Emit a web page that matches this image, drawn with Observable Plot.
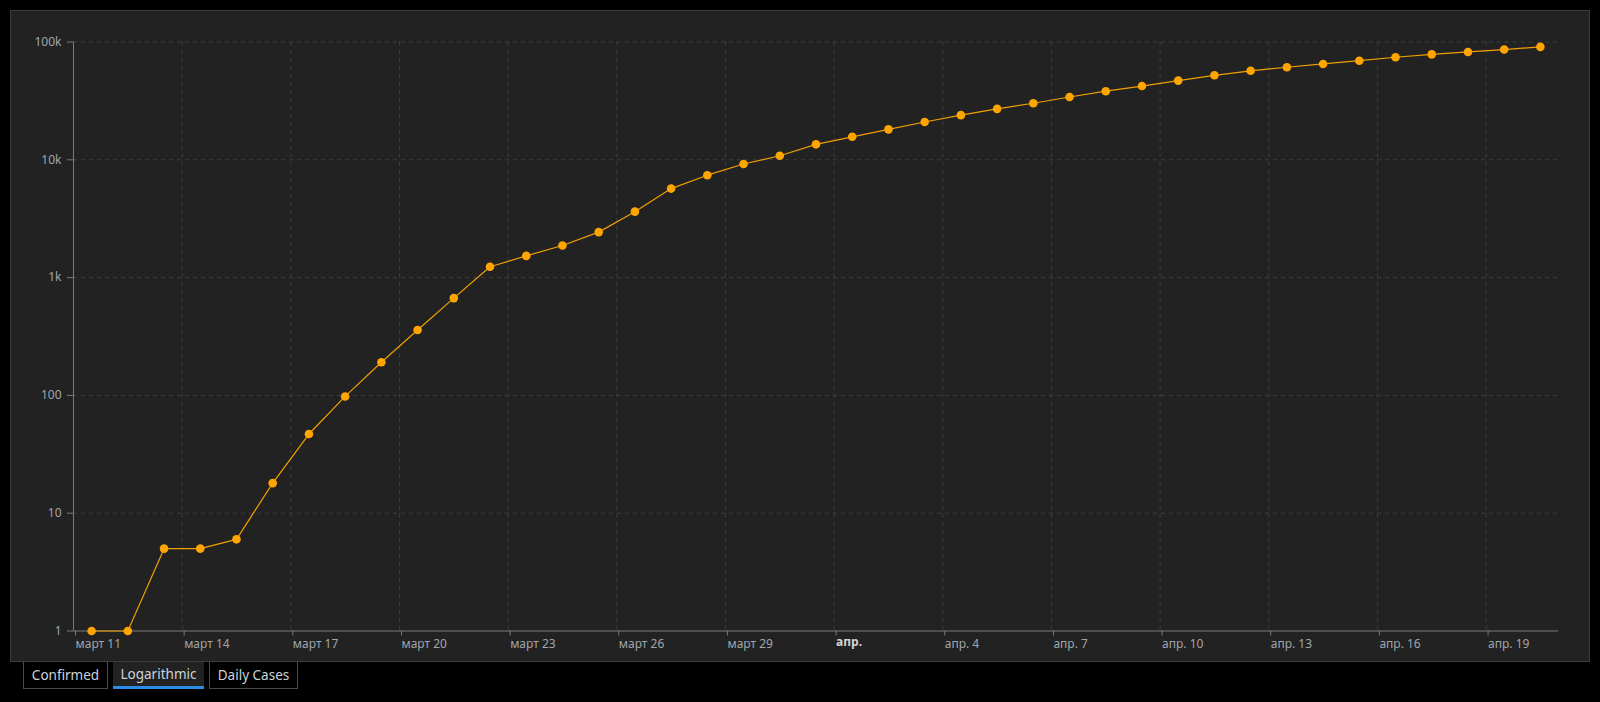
<!DOCTYPE html>
<html><head><meta charset="utf-8">
<script src="https://cdn.jsdelivr.net/npm/d3@7"></script>
<script src="https://cdn.jsdelivr.net/npm/@observablehq/plot@0.6"></script>
<style>
html,body{margin:0;padding:0;background:#000;width:1600px;height:702px;overflow:hidden;font-family:"Noto Sans",sans-serif;}
#panel{position:absolute;left:10px;top:10px;width:1578px;height:650px;background:#222;border:1px solid #3c3c3c;}
#chart{position:absolute;left:10px;top:10px;}
.tab{position:absolute;top:662px;height:27px;box-sizing:border-box;border:1px solid #4a4a4a;border-top:none;color:#cbd3da;font-size:13.5px;display:flex;align-items:center;justify-content:center;background:#000;}
.tab.active{background:#222;border:none;border-bottom:3px solid #2b8ce6;}
</style></head><body>
<div id="panel"></div><div id="chart"></div><div id="tabs"></div>
<script>
const dates = ["2020-03-11","2020-03-12","2020-03-13","2020-03-14","2020-03-15","2020-03-16","2020-03-17","2020-03-18","2020-03-19","2020-03-20","2020-03-21","2020-03-22","2020-03-23","2020-03-24","2020-03-25","2020-03-26","2020-03-27","2020-03-28","2020-03-29","2020-03-30","2020-03-31","2020-04-01","2020-04-02","2020-04-03","2020-04-04","2020-04-05","2020-04-06","2020-04-07","2020-04-08","2020-04-09","2020-04-10","2020-04-11","2020-04-12","2020-04-13","2020-04-14","2020-04-15","2020-04-16","2020-04-17","2020-04-18","2020-04-19","2020-04-20"];
const confirmed = [1,1,5,5,6,18,47,98,191,359,670,1236,1529,1872,2433,3629,5698,7402,9217,10827,13531,15679,18135,20921,23934,27069,30217,34109,38226,42282,47029,52167,56956,61049,65111,69392,74193,78546,82329,86306,90980];
const xDomain = ["2020-03-11","2020-04-21"];
const tickDates = ["2020-03-11","2020-03-14","2020-03-17","2020-03-20","2020-03-23","2020-03-26","2020-03-29","2020-04-01","2020-04-04","2020-04-07","2020-04-10","2020-04-13","2020-04-16","2020-04-19"];
const tickLabels = ["март 11","март 14","март 17","март 20","март 23","март 26","март 29","апр.","апр. 4","апр. 7","апр. 10","апр. 13","апр. 16","апр. 19"];
const tickIsMonth = [false,false,false,false,false,false,false,true,false,false,false,false,false,false];
const yTicks = [1,10,100,1000,10000,100000];
const yTickLabels = ["1","10","100","1k","10k","100k"];
const tabs = ["Confirmed","Logarithmic","Daily Cases"];
const activeTab = "Logarithmic";

const utc = s => new Date(s + "T00:00:00Z");
const noon = s => new Date(s + "T12:00:00Z");
const rows = dates.map((d, i) => ({date: noon(d), value: confirmed[i]}));
const ticks = tickDates.map((d, i) => ({date: utc(d), label: tickLabels[i], month: tickIsMonth[i]}));
const labelByTime = new Map(ticks.map(t => [+t.date, t.month ? "" : t.label]));

const chart = Plot.plot({
  width: 1580, height: 652,
  marginLeft: 63, marginRight: 32, marginTop: 31.5, marginBottom: 31.5,
  style: {background: "transparent", color: "#a0a6ad", fontFamily: "Noto Sans", fontSize: "12px"},
  x: {type: "utc", domain: xDomain.map(utc)},
  y: {type: "log", domain: [yTicks[0], yTicks[yTicks.length - 1]]},
  marks: [
    Plot.gridX(ticks.map(t => t.date), {stroke: "#3e3e3e", strokeOpacity: 1, strokeDasharray: "4,4"}),
    Plot.gridY(yTicks.slice(1), {stroke: "#3e3e3e", strokeOpacity: 1, strokeDasharray: "4,4"}),
    Plot.ruleY([yTicks[0]], {stroke: "#7a7a7a"}),
    Plot.ruleX([utc(xDomain[0])], {stroke: "#7a7a7a"}),
    Plot.axisX(ticks.map(t => t.date), {tickSize: 5, stroke: "#7a7a7a", fill: "#a0a6ad", tickFormat: d => labelByTime.get(+d), textAnchor: "start", dx: 2, tickPadding: 3, label: null}),
    Plot.text(ticks.filter(t => t.month), {x: "date", text: "label", frameAnchor: "bottom", dy: 15, dx: 2, textAnchor: "start", fontWeight: "bold", fill: "#d4d4d4"}),
    Plot.axisY(yTicks, {tickSize: 6, stroke: "#7a7a7a", fill: "#a0a6ad", tickPadding: 6, tickFormat: (d, i) => yTickLabels[yTicks.indexOf(d)], label: null}),
    Plot.line(rows, {x: "date", y: "value", stroke: "#f0a000", strokeWidth: 1.2}),
    Plot.dot(rows, {x: "date", y: "value", r: 4.3, fill: "#ffa500", stroke: "none"})
  ]
});
document.getElementById("chart").appendChild(chart);

const tabPos = [{left: 23, width: 85}, {left: 113, width: 91}, {left: 209, width: 89}];
const tabsEl = document.getElementById("tabs");
tabs.forEach((t, i) => {
  const el = document.createElement("div");
  el.className = "tab" + (t === activeTab ? " active" : "");
  el.style.left = tabPos[i].left + "px";
  el.style.width = tabPos[i].width + "px";
  el.textContent = t;
  tabsEl.appendChild(el);
});
</script>
</body></html>
